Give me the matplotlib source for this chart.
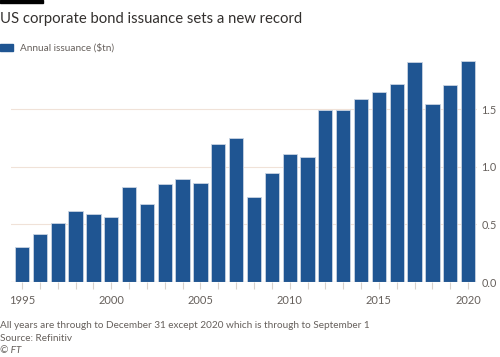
import matplotlib.pyplot as plt
from matplotlib.patches import Rectangle

years = list(range(1995, 2021))
issuance = [0.30, 0.42, 0.515, 0.62, 0.59, 0.56, 0.82, 0.68, 0.85, 0.89,
            0.86, 1.20, 1.245, 0.74, 0.945, 1.11, 1.08, 1.49, 1.49, 1.585,
            1.65, 1.72, 1.91, 1.54, 1.71, 1.915]
xtick_years = [1995, 2000, 2005, 2010, 2015, 2020]
ytick_vals = [0.0, 0.5, 1.0, 1.5]

plt.rcParams["font.family"] = ["Lato", "DejaVu Sans"]

bar_color = "#1f5592"
text_color = "#33302e"
muted = "#66605c"
grid_color = "#f0e2d8"

fig = plt.figure(figsize=(5, 3.57), dpi=100)
ax = fig.add_axes([0.022, 0.21, 0.932, 0.63])

ax.bar(years, issuance, width=0.8, color=bar_color, edgecolor="#c9d4e2", linewidth=0.6, zorder=3)

ax.set_xlim(1994.38, 2020.5)
ax.set_ylim(0, 1.95)
ax.yaxis.tick_right()
ax.set_yticks(ytick_vals)
ax.set_yticklabels([f"{v:.1f}" for v in ytick_vals])
ax.set_xticks(years, minor=True)
ax.set_xticks(xtick_years)
ax.set_xticklabels([str(y) for y in xtick_years])
ax.tick_params(axis="y", length=0, pad=3, labelsize=7.8, labelcolor=muted)
ax.tick_params(axis="x", which="both", length=5, color="#d9d2cc", width=0.8,
               labelsize=8, labelcolor=muted, pad=4)
ax.grid(axis="y", color=grid_color, linewidth=0.8, zorder=0)
ax.axhline(0, color="#b8b2ad", linewidth=0.8, zorder=4)
for s in ax.spines.values():
    s.set_visible(False)

fig.patches.append(Rectangle((0, 0.991), 0.086, 0.009, transform=fig.transFigure,
                             color="black", zorder=5))
fig.text(0.0, 0.948, "US corporate bond issuance sets a new record", fontsize=10.7,
         color=text_color, va="center")
fig.patches.append(Rectangle((0.0, 0.858), 0.026, 0.018, transform=fig.transFigure,
                             color=bar_color))
fig.text(0.04, 0.867, "Annual issuance ($tn)", fontsize=7.2, color=muted, va="center")

fig.text(0.0, 0.087, "All years are through to December 31 except 2020 which is through to September 1",
         fontsize=7.2, color=muted, va="center")
fig.text(0.0, 0.052, "Source: Refinitiv", fontsize=7.2, color=muted, va="center")
fig.text(0.0, 0.017, "© FT", fontsize=7.2, color=muted, va="center", style="italic")

fig.savefig("out.png", dpi=100, facecolor="white")
